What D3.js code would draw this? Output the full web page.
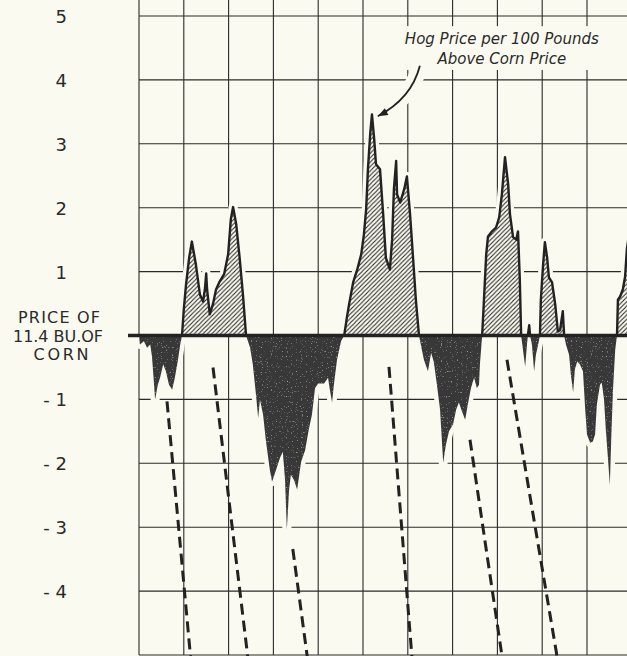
<!DOCTYPE html>
<html><head><meta charset="utf-8">
<script src="https://cdn.jsdelivr.net/npm/d3@7"></script>
<style>
html,body{margin:0;padding:0;background:#fafaf0;}
svg{display:block;}
</style></head>
<body><svg id="c" width="627" height="656"></svg>
<script>
// time axis: years from the left edge of the grid (one grid column = one year)
const periodX = [
 0.00,0.02,0.11,0.18,0.25,0.29,0.36,0.42,0.47,0.54,0.60,0.67,0.74,0.80,0.87,0.92,0.96,
 1.00,1.05,1.12,1.18,1.27,1.36,1.43,1.47,1.50,1.52,1.58,1.65,1.72,1.79,1.90,1.99,2.05,2.10,2.17,2.25,2.32,2.39,
 2.48,2.54,2.61,2.66,2.70,2.77,2.83,2.92,2.97,3.06,3.15,3.21,3.26,3.30,3.35,3.39,3.46,3.53,3.62,3.71,3.79,3.86,3.93,4.00,4.13,4.22,4.26,4.31,4.35,4.42,4.51,4.58,
 4.64,4.69,4.78,4.87,4.96,5.02,5.07,5.11,5.16,5.20,5.25,5.29,5.38,5.45,5.51,5.60,5.65,5.69,5.74,5.76,5.83,5.92,5.98,6.05,6.12,6.18,6.25,
 6.29,6.36,6.45,6.52,6.58,6.65,6.72,6.79,6.85,6.92,7.01,7.08,7.14,7.21,7.28,7.34,7.41,7.48,7.54,7.59,7.61,7.66,
 7.70,7.75,7.79,7.88,7.97,8.04,8.10,8.17,8.24,8.28,8.35,8.42,8.46,8.50,8.53,
 8.57,8.62,8.66,8.68,8.71,8.73,8.77,8.82,8.86,8.91,8.95,
 8.97,9.02,9.06,9.11,9.15,9.22,9.29,9.35,9.40,9.46,9.49,
 9.53,9.60,9.64,9.69,9.73,9.78,9.84,9.91,9.96,10.00,10.07,10.13,10.18,10.22,10.29,10.33,10.38,10.42,10.47,10.51,10.54,10.58,10.63,10.67,
 10.69,10.74,10.80,10.85,10.89,11.00
];
// hog price per 100 lb minus price of 11.4 bu. of corn (dollars)
const hogMinusCorn = [
 0.00,-0.14,-0.09,-0.19,-0.14,-0.33,-1.00,-0.77,-0.66,-0.45,-0.56,-0.77,-0.85,-0.66,-0.38,-0.14,0.00,
 0.41,0.80,1.22,1.47,1.11,0.64,0.53,0.72,0.97,0.72,0.33,0.49,0.72,0.83,0.96,1.27,1.82,2.01,1.74,1.19,0.64,0.00,
 -0.19,-0.45,-0.92,-1.29,-1.00,-1.24,-1.63,-2.10,-2.29,-2.10,-1.91,-1.82,-2.26,-3.04,-2.41,-2.18,-2.26,-2.41,-1.97,-1.79,-1.47,-1.24,-0.82,-0.75,-0.75,-0.66,-0.85,-1.05,-0.77,-0.38,-0.09,0.00,
 0.28,0.49,0.83,1.03,1.27,1.58,1.97,2.60,3.15,3.46,3.07,2.68,2.60,1.90,1.22,1.03,1.50,2.29,2.73,2.21,2.08,2.29,2.49,1.90,1.19,0.56,0.00,
 -0.14,-0.38,-0.56,-0.27,-0.41,-0.77,-1.16,-1.99,-1.71,-1.50,-1.39,-1.16,-1.05,-1.19,-1.32,-1.08,-0.82,-0.66,-0.82,-0.77,-0.45,0.00,
 0.56,1.27,1.55,1.63,1.69,1.85,2.21,2.79,2.37,1.90,1.54,1.50,1.63,0.88,0.00,
 -0.22,-0.49,-0.14,0.00,0.16,0.00,-0.14,-0.56,-0.30,-0.14,0.00,
 0.56,1.11,1.46,1.22,0.91,0.83,0.49,0.06,0.09,0.38,0.00,
 -0.14,-0.30,-0.61,-0.89,-0.53,-0.41,-0.45,-0.56,-1.16,-1.55,-1.68,-1.66,-1.55,-1.08,-0.77,-0.74,-1.00,-1.47,-1.94,-2.34,-1.63,-0.85,-0.22,0.00,
 0.56,0.61,0.72,0.92,1.35,1.90
];
const yTicks = [5,4,3,2,1,0,-1,-2,-3,-4];
const zeroLabel = ["PRICE OF","11.4 BU.OF","CORN"];
const xGridYears = [0,1,2,3,4,5,6,7,8,9,10,11];
const yGridValues = [5,4,3,2,1,-1,-2,-3,-4,-5];
// dashed guide lines (start year/value -> end year/value)
const dashX0 = [0.625,1.652,3.433,5.580,7.388,8.214];
const dashY0 = [-1.03,-0.50,-3.34,-0.49,-1.63,-0.38];
const dashX1 = [1.160,2.440,3.770,6.100,8.120,9.350];
const dashY1 = [-5.10,-5.10,-5.10,-5.10,-5.10,-5.10];
const noteLines = ["Hog Price per 100 Pounds","Above Corn Price"];
const noteX = 8.10, noteY = [4.56,4.25];
const arrowFrom = [6.27,4.22], arrowTo = [5.33,3.43];

const W = 627, H = 656, BG = "#fafaf0", INK = "#2a2a2a";
const svg = d3.select("#c");
const x = d3.scaleLinear().domain([0,11]).range([139,631.8]);
const y = d3.scaleLinear().domain([-5,5]).range([655,16]);
const data = periodX.map((t,i)=>({t, v:hogMinusCorn[i]}));

const defs = svg.append("defs");
const pat = defs.append("pattern").attr("id","hatch").attr("patternUnits","userSpaceOnUse")
  .attr("width",4.4).attr("height",4.4);
pat.append("rect").attr("width",4.4).attr("height",4.4).attr("fill",BG);
pat.append("path").attr("d","M-1,1 L1,-1 M0,4.4 L4.4,0 M3.4,5.4 L5.4,3.4")
  .attr("stroke","#222").attr("stroke-width",1.05);
defs.append("clipPath").attr("id","pos").append("rect")
  .attr("x",0).attr("y",0).attr("width",W).attr("height",y(0));
defs.append("clipPath").attr("id","neg").append("rect")
  .attr("x",0).attr("y",y(0)).attr("width",W).attr("height",H);
const f = defs.append("filter").attr("id","speck").attr("x",0).attr("y",0).attr("width",1).attr("height",1);
f.append("feTurbulence").attr("type","fractalNoise").attr("baseFrequency",0.8).attr("numOctaves",1).attr("seed",3).attr("result","n");
f.append("feColorMatrix").attr("in","n").attr("type","matrix")
  .attr("values","0 0 0 0 0.48  0 0 0 0 0.48  0 0 0 0 0.47  0 0 0 -4 1.45").attr("result","m");
f.append("feComposite").attr("in","m").attr("in2","SourceGraphic").attr("operator","in").attr("result","s");
const fm = f.append("feMerge");
fm.append("feMergeNode").attr("in","SourceGraphic");
fm.append("feMergeNode").attr("in","s");

svg.append("rect").attr("width",W).attr("height",H).attr("fill",BG);

// grid
const grid = svg.append("g").attr("stroke",INK).attr("stroke-width",1.1);
grid.selectAll("line.v").data(xGridYears).join("line")
  .attr("x1",d=>x(d)).attr("x2",d=>x(d)).attr("y1",0).attr("y2",y(-5));
grid.selectAll("line.h").data(yGridValues).join("line")
  .attr("x1",x(0)).attr("x2",x(11)).attr("y1",d=>y(d)).attr("y2",d=>y(d));

const line = d3.line().x(d=>x(d.t)).y(d=>y(d.v));
const area = d3.area().x(d=>x(d.t)).y0(y(0)).y1(d=>y(d.v));

// knock-outs
svg.append("path").datum(data).attr("d",line).attr("fill","none")
  .attr("stroke",BG).attr("stroke-width",9).attr("stroke-linejoin","round");
const a0 = [x(arrowFrom[0]), y(arrowFrom[1])], a1 = [x(arrowTo[0]), y(arrowTo[1])];
const ctrl = [a0[0]-0.2*(a0[0]-a1[0]), a1[1]-0.35*(a1[1]-a0[1])];
const arrowD = `M${a0[0]},${a0[1]} Q${ctrl[0]},${ctrl[1]} ${a1[0]},${a1[1]}`;
svg.append("path").attr("d",arrowD).attr("fill","none").attr("stroke",BG).attr("stroke-width",16);
const boxG = svg.append("g");

// areas
svg.append("path").datum(data).attr("d",area).attr("clip-path","url(#neg)")
  .attr("fill","#393938").attr("filter","url(#speck)");
svg.append("path").datum(data).attr("d",area).attr("clip-path","url(#pos)")
  .attr("fill","url(#hatch)");
svg.append("path").datum(data).attr("d",line).attr("clip-path","url(#pos)")
  .attr("fill","none").attr("stroke","#222").attr("stroke-width",2.4).attr("stroke-linejoin","round");

// zero line
svg.append("line").attr("x1",128).attr("x2",W).attr("y1",y(0)).attr("y2",y(0))
  .attr("stroke","#222").attr("stroke-width",3.5);

// dashed lines
svg.append("g").selectAll("line").data(dashX0).join("line")
  .attr("x1",(d,i)=>x(dashX0[i])).attr("y1",(d,i)=>y(dashY0[i]))
  .attr("x2",(d,i)=>x(dashX1[i])).attr("y2",(d,i)=>y(dashY1[i]))
  .attr("stroke","#222").attr("stroke-width",3).attr("stroke-dasharray","11,6");

// arrow
svg.append("path").attr("d",arrowD).attr("fill","none").attr("stroke","#222").attr("stroke-width",1.8);
{
  const dx=a1[0]-ctrl[0], dy=a1[1]-ctrl[1], L=Math.hypot(dx,dy), ux=dx/L, uy=dy/L;
  const bx=a1[0]-ux*10, by=a1[1]-uy*10;
  svg.append("path").attr("d",`M${a1[0]},${a1[1]} L${bx-uy*3.8},${by+ux*3.8} L${bx+uy*3.8},${by-ux*3.8} Z`)
    .attr("fill","#222");
}

// annotation text
const note = svg.append("g").attr("font-family","DejaVu Sans, sans-serif").attr("font-style","italic")
  .attr("font-size",15).attr("fill",INK).attr("text-anchor","middle");
note.selectAll("text").data(noteLines).join("text")
  .attr("x",x(noteX)).attr("y",(d,i)=>y(noteY[i])).text(d=>d);
const bb = note.node().getBBox();
boxG.append("rect").attr("x",bb.x-6).attr("y",bb.y-4).attr("width",bb.width+12).attr("height",bb.height+6).attr("fill",BG);

// y axis labels
const axis = d3.axisLeft(y).tickValues(yTicks).tickSize(0).tickPadding(0)
  .tickFormat(d => d<0 ? "- "+(-d) : d>0 ? String(d) : "");
const ag = svg.append("g").attr("transform",`translate(${x(0)},0)`).call(axis);
ag.select(".domain").remove();
ag.attr("font-family","DejaVu Sans, sans-serif").attr("font-size",18);
ag.selectAll(".tick text").attr("x",-72).attr("dy","0.36em").attr("fill",INK).attr("text-anchor","end");
const zt = ag.selectAll(".tick").filter(d=>d===0).select("text")
  .attr("text-anchor","middle").attr("dy",0).attr("font-size",16);
const zx = [-80,-81,-78], zy = [-13,6,24], zw = [82,90,55];
zeroLabel.forEach((s,i)=>{
  zt.append("tspan").attr("x",zx[i]).attr("y",zy[i]).attr("textLength",zw[i])
    .attr("lengthAdjust","spacing").text(s);
});
</script>
</body></html>
